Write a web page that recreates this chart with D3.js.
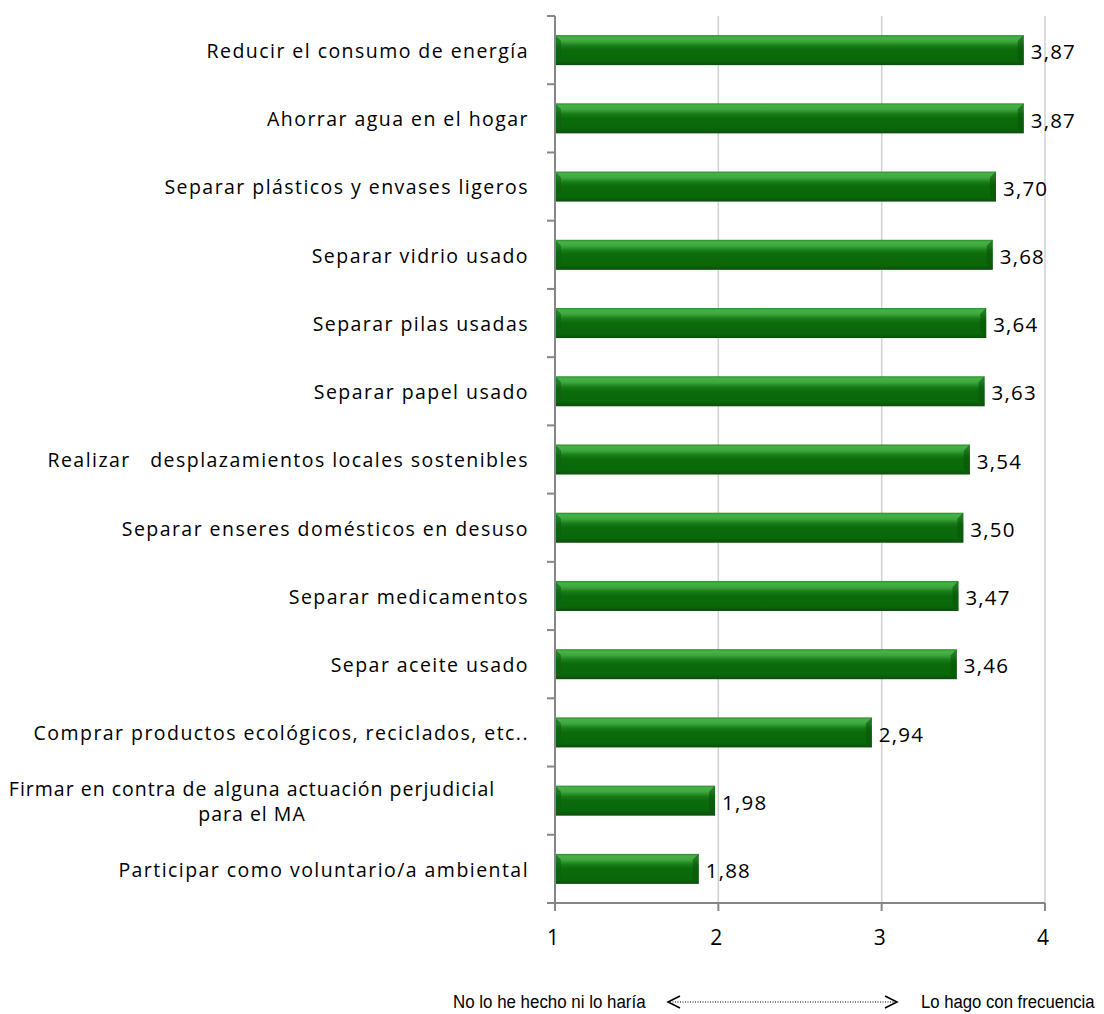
<!DOCTYPE html>
<html><head><meta charset="utf-8">
<script src="https://cdn.jsdelivr.net/npm/d3@7"></script>
<style>body{margin:0;background:#fff} text{white-space:pre}</style>
</head><body>
<svg id="c" width="1104" height="1014"></svg>
<script>
const categories = [
  ["Reducir el consumo de energía"],
  ["Ahorrar agua en el hogar"],
  ["Separar plásticos y envases ligeros"],
  ["Separar vidrio usado"],
  ["Separar pilas usadas"],
  ["Separar papel usado"],
  ["Realizar   desplazamientos locales sostenibles"],
  ["Separar enseres domésticos en desuso"],
  ["Separar medicamentos"],
  ["Separ aceite usado"],
  ["Comprar productos ecológicos, reciclados, etc.."],
  ["Firmar en contra de alguna actuación perjudicial", "para el MA"],
  ["Participar como voluntario/a ambiental"]
];
const values = [3.87, 3.87, 3.70, 3.68, 3.64, 3.63, 3.54, 3.50, 3.47, 3.46, 2.94, 1.98, 1.88];
const tickValues = [1, 2, 3, 4];
const leftNote = "No lo he hecho ni lo haría";
const rightNote = "Lo hago con frecuencia";

const svg = d3.select("#c");
const x0 = 555, x1 = 1045, yTop = 16, yBot = 903;
const x = d3.scaleLinear().domain([1, 4]).range([x0, x1]);
const idx = d3.range(categories.length);
const y = d3.scaleBand().domain(idx).range([yTop, yBot]).paddingInner(0.56).paddingOuter(0.28);
const FONT = "Open Sans, sans-serif";

const defs = svg.append("defs");
const g = defs.append("linearGradient").attr("id", "bg").attr("x1", 0).attr("y1", 0).attr("x2", 0).attr("y2", 1);
[[0, "#2c8a2c"], [0.07, "#46b246"], [0.2, "#3ea83e"], [0.36, "#177b17"], [0.5, "#0b6b0b"], [0.85, "#0a670a"], [0.93, "#0b5a0b"], [1, "#0a4c0a"]]
  .forEach(([o, c]) => g.append("stop").attr("offset", o).attr("stop-color", c));

// gridlines
svg.append("g").selectAll("line").data(tickValues.slice(1)).join("line")
  .attr("x1", d => x(d)).attr("x2", d => x(d)).attr("y1", yTop).attr("y2", yBot)
  .attr("stroke", "#d0d0d0").attr("stroke-width", 1.5);

// bars
const bars = svg.append("g").selectAll("g").data(idx).join("g");
bars.append("rect")
  .attr("x", x(1)).attr("y", i => y(i))
  .attr("width", i => x(values[i]) - x(1)).attr("height", y.bandwidth())
  .attr("fill", "url(#bg)");
bars.append("path")
  .attr("d", i => {
    const yy = y(i), h = y.bandwidth(), xs = x(1), b = 6;
    return `M${xs},${yy}L${xs + b},${yy + b}L${xs + b},${yy + h - b}L${xs},${yy + h}Z`;
  }).attr("fill", "#0f5f0f").attr("opacity", 0.6);
bars.append("path")
  .attr("d", i => {
    const yy = y(i), h = y.bandwidth(), xe = x(values[i]), b = 6;
    return `M${xe},${yy}L${xe - b},${yy + b}L${xe - b},${yy + h - b}L${xe},${yy + h}Z`;
  }).attr("fill", "#0a550a").attr("opacity", 0.6);

// value labels
svg.append("g").selectAll("text").data(idx).join("text")
  .attr("x", i => x(values[i]) + 7).attr("y", i => y(i) + y.bandwidth() / 2 + 2)
  .attr("dy", "0.35em").attr("font-family", FONT).attr("font-size", 20.5)
  .attr("letter-spacing", 1.2)
  .attr("fill", "#000").text(i => values[i].toFixed(2).replace(".", ","));

// category labels
const lab = svg.append("g").selectAll("text").data(idx).join("text")
  .attr("text-anchor", i => categories[i].length > 1 ? "middle" : "end")
  .attr("font-family", FONT).attr("font-size", 19.5).attr("letter-spacing", 1.45).attr("fill", "#000");
lab.each(function(i) {
  const t = d3.select(this);
  const cy = y(i) + y.bandwidth() / 2;
  const lines = categories[i];
  if (lines.length === 1) {
    t.append("tspan").attr("x", 529).attr("y", cy + 1).attr("dy", "0.35em").text(lines[0]);
  } else {
    lines.forEach((l, k) => t.append("tspan").attr("x", 252).attr("y", cy - 11 + k * 25).attr("dy", "0.35em")
      .attr("letter-spacing", 1.0).text(l));
  }
});

// axes
const axG = svg.append("g").attr("stroke", "#868686").attr("stroke-width", 2);
axG.append("line").attr("x1", x0).attr("x2", x0).attr("y1", yTop).attr("y2", yBot);
axG.append("line").attr("x1", x0 - 8).attr("x2", x1).attr("y1", yBot).attr("y2", yBot);
const bandStep = (yBot - yTop) / categories.length;
axG.selectAll(".yt").data(d3.range(categories.length)).join("line")
  .attr("x1", x0 - 8).attr("x2", x0).attr("y1", k => yTop + k * bandStep).attr("y2", k => yTop + k * bandStep);
axG.selectAll(".xt").data(tickValues).join("line")
  .attr("x1", d => x(d)).attr("x2", d => x(d)).attr("y1", yBot).attr("y2", yBot + 8);

svg.append("g").selectAll("text").data(tickValues).join("text")
  .attr("x", d => x(d) - 2).attr("y", 938).attr("dy", "0.35em").attr("text-anchor", "middle")
  .attr("font-family", FONT).attr("font-size", 21).text(d => d);

// bottom note (condensed via horizontal scale)
const noteY = 1001;
const NFONT = "Liberation Sans, Arial, sans-serif";
svg.append("g").attr("transform", `translate(453,${noteY}) scale(0.89,1)`)
  .append("text").attr("dy", "0.35em")
  .attr("font-family", NFONT).attr("font-size", 19).text(leftNote);
svg.append("g").attr("transform", `translate(921,${noteY}) scale(0.88,1)`)
  .append("text").attr("dy", "0.35em")
  .attr("font-family", NFONT).attr("font-size", 19).text(rightNote);
const ar = svg.append("g").attr("stroke", "#000").attr("fill", "none");
ar.append("line").attr("x1", 670).attr("x2", 895).attr("y1", noteY + 1).attr("y2", noteY + 1)
  .attr("stroke-dasharray", "1,1.5").attr("stroke-width", 1);
ar.append("path").attr("d", `M680,${noteY - 5}L668,${noteY + 1}L680,${noteY + 7}`).attr("stroke-width", 1.6);
ar.append("path").attr("d", `M885,${noteY - 5}L897,${noteY + 1}L885,${noteY + 7}`).attr("stroke-width", 1.6);
</script>
</body></html>
